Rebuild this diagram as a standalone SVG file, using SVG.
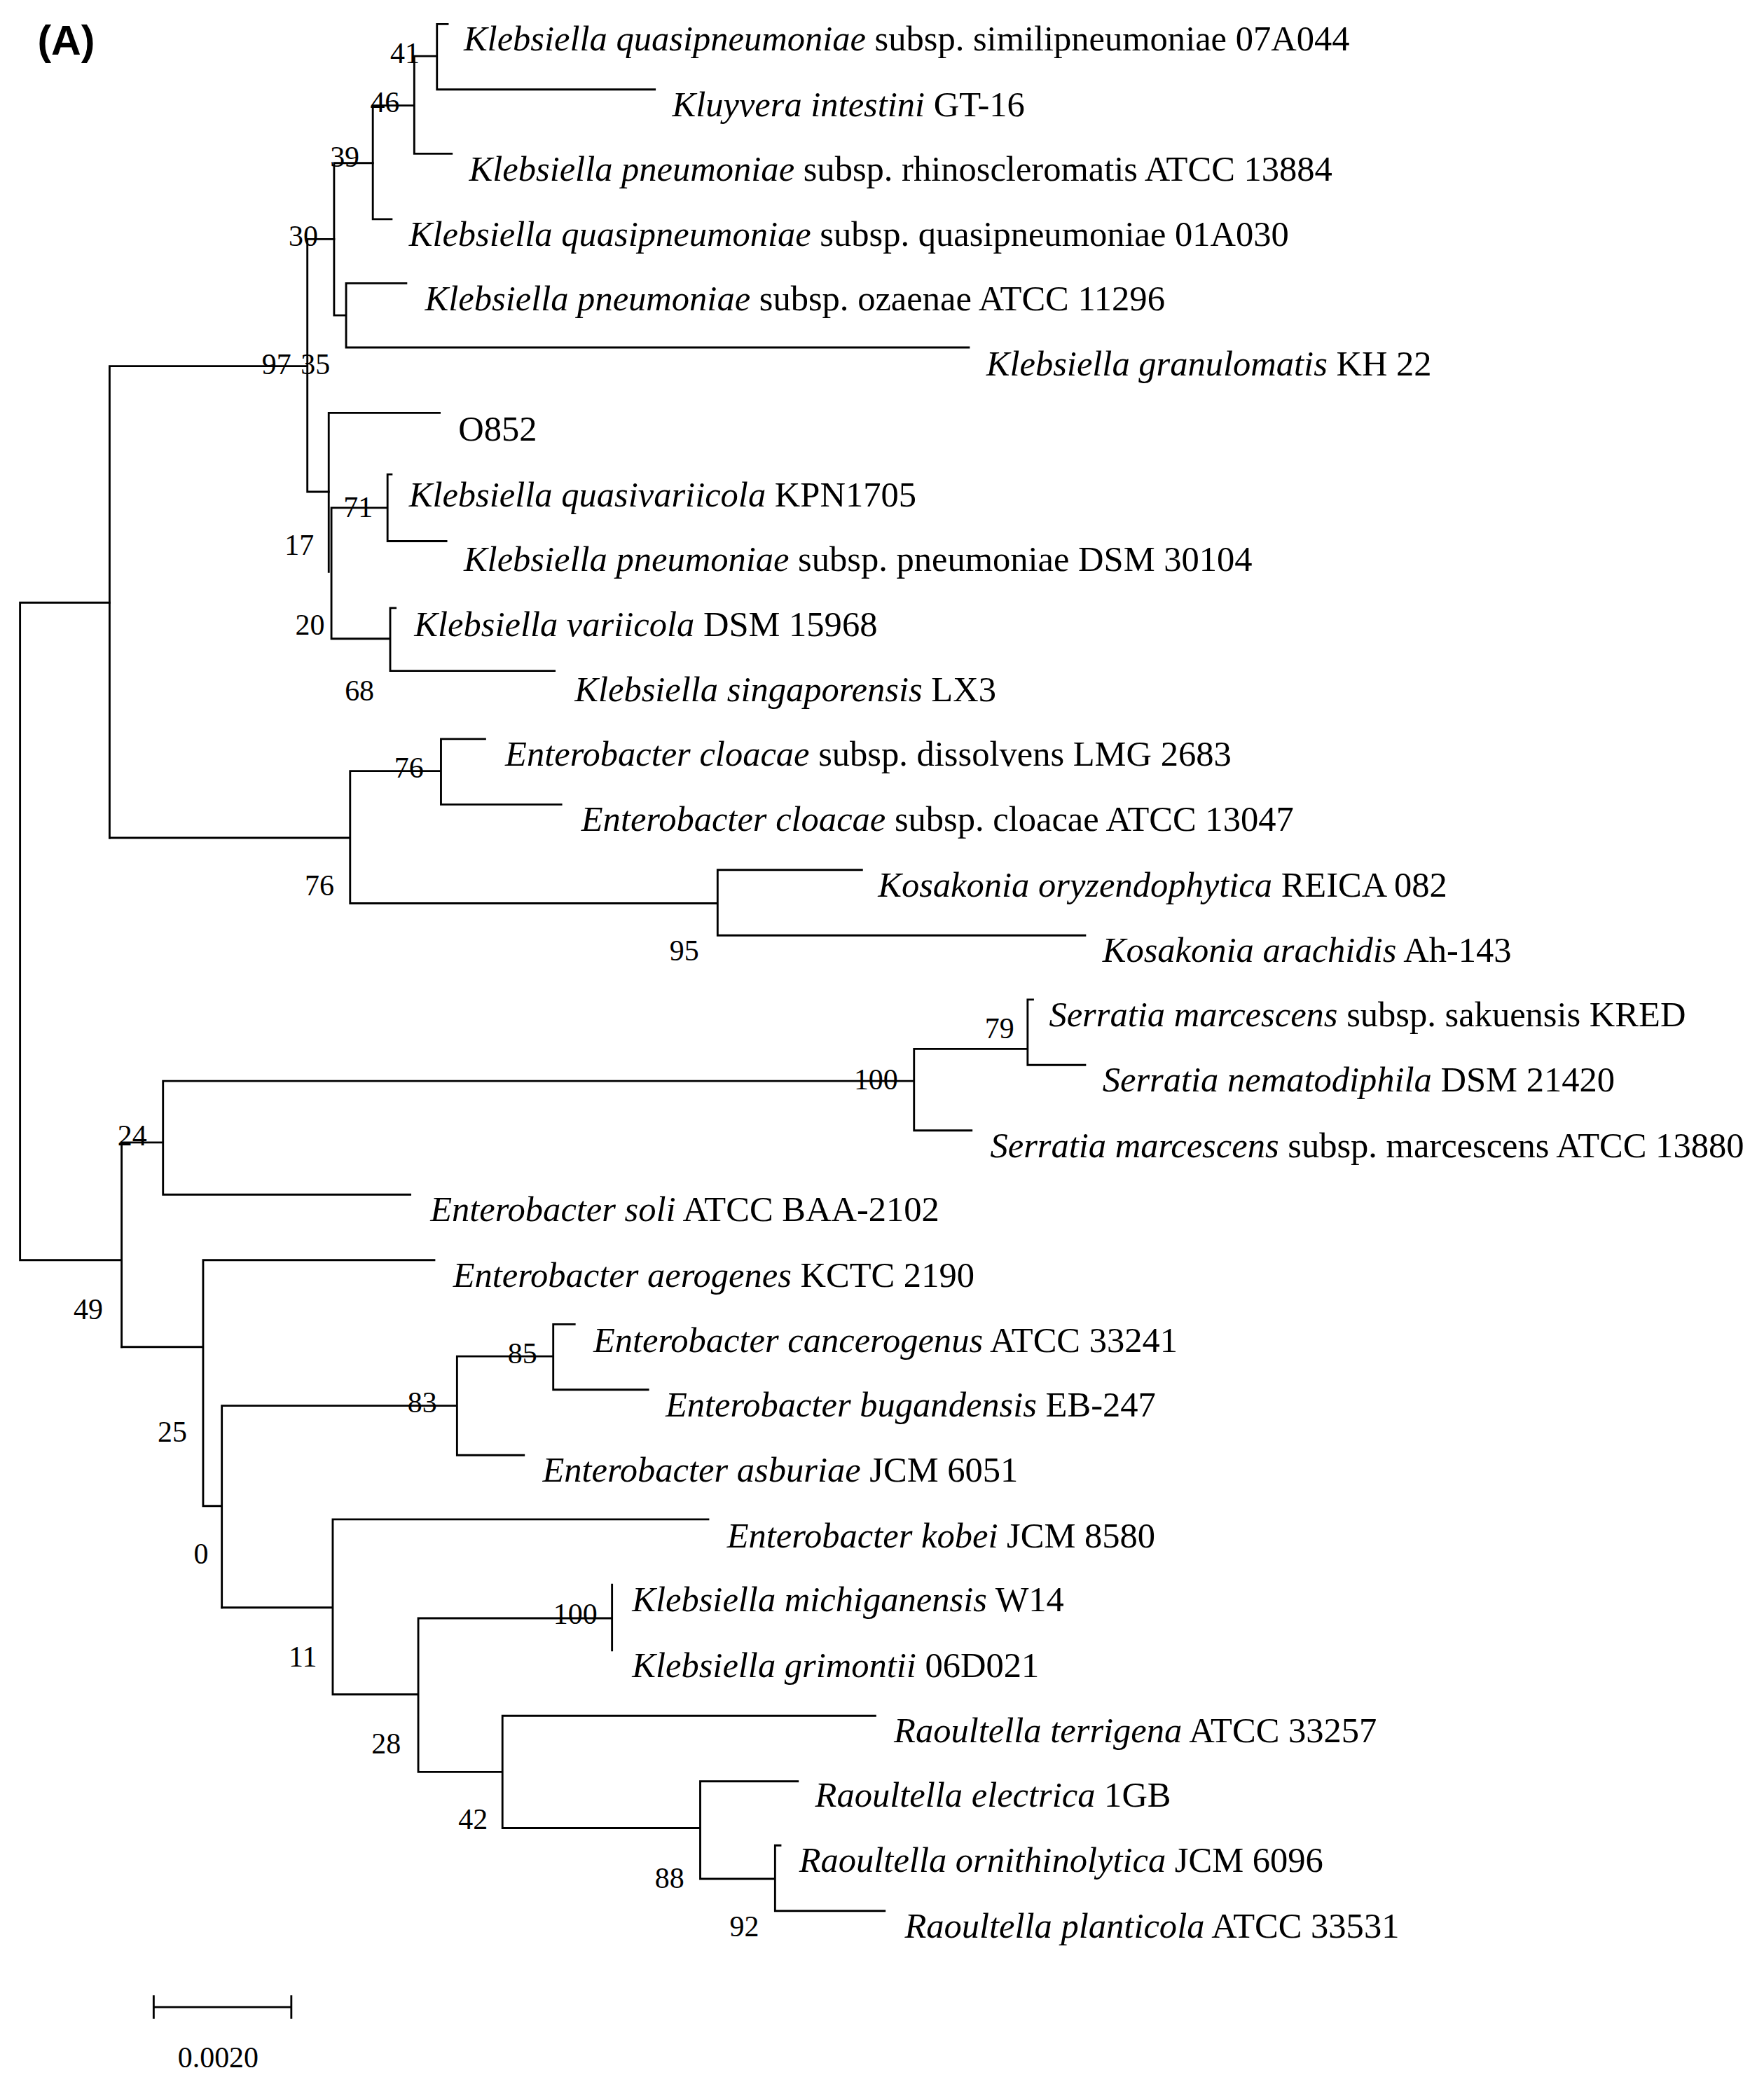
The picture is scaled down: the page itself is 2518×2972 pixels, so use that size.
<svg xmlns="http://www.w3.org/2000/svg" width="2518" height="2972" viewBox="0 0 2518 2972">
<style>
.e{fill:none;stroke:#000;stroke-width:1.5;stroke-linecap:square}
.t{font-family:"Liberation Serif",serif;font-size:26.5px;fill:#000}
.n{font-family:"Liberation Serif",serif;font-size:22px;fill:#000}
.s{font-family:"Liberation Sans",sans-serif;font-size:31px;font-weight:bold;fill:#000}
</style>
<rect width="2518" height="2972" fill="#fff"/>
<g transform="scale(1.9075)">
<text class="s" x="28" y="41">(A)</text>
<g id="connectors" class="e">
<path d="M15 451V943M15 451H82M15 943H91"/>
<path d="M82 274V627M82 274H230M230 179V368M230 179H250M230 368H246"/>
<path d="M250 122V236M250 122H279M250 236H259M259 212V260M259 212H304M259 260H725"/>
<path d="M279 79V164M279 79H310M279 164H293M310 42V115M310 42H327M310 115H338M327 18V67M327 18H335M327 67H490"/>
<path d="M246 309V428M246 309H329M248 380V478M248 380H290M290 355V405M290 355H293M290 405H334M248 478H292M292 455V502M292 455H296M292 502H415"/>
<path d="M82 627H262M262 577V676M262 577H330M330 553V602M330 553H363M330 602H420M262 676H537M537 651V700M537 651H645M537 700H812"/>
<path d="M91 855V1008M91 855H122M122 809V894M122 809H684M122 894H307M684 785V846M684 785H769M684 846H727M769 748V797M769 748H773M769 797H812"/>
<path d="M91 1008H152M152 943V1127M152 943H325M152 1127H166M166 1052V1203M166 1052H342M342 1015V1089M342 1015H414M342 1089H392M414 991V1040M414 991H430M414 1040H485"/>
<path d="M166 1203H249M249 1137V1268M249 1137H530M249 1268H313M313 1211V1326M313 1211H458M458 1186V1235M313 1326H376M376 1284V1368M376 1284H655M376 1368H524M524 1333V1406M524 1333H597M524 1406H580M580 1381V1430M580 1381H584M580 1430H662"/>
<path d="M115 1502H218M115 1494V1510M218 1494V1510"/>
</g>
<g id="leaves" class="t">
<text x="347" y="38"><tspan font-style="italic">Klebsiella quasipneumoniae</tspan> subsp. similipneumoniae 07A044</text>
<text x="503" y="87"><tspan font-style="italic">Kluyvera intestini</tspan> GT-16</text>
<text x="351" y="135"><tspan font-style="italic">Klebsiella pneumoniae</tspan> subsp. rhinoscleromatis ATCC 13884</text>
<text x="306" y="184"><tspan font-style="italic">Klebsiella quasipneumoniae</tspan> subsp. quasipneumoniae 01A030</text>
<text x="318" y="232"><tspan font-style="italic">Klebsiella pneumoniae</tspan> subsp. ozaenae ATCC 11296</text>
<text x="738" y="281"><tspan font-style="italic">Klebsiella granulomatis</tspan> KH 22</text>
<text x="343" y="330">O852</text>
<text x="306" y="379"><tspan font-style="italic">Klebsiella quasivariicola</tspan> KPN1705</text>
<text x="347" y="427"><tspan font-style="italic">Klebsiella pneumoniae</tspan> subsp. pneumoniae DSM 30104</text>
<text x="310" y="476"><tspan font-style="italic">Klebsiella variicola</tspan> DSM 15968</text>
<text x="430" y="525"><tspan font-style="italic">Klebsiella singaporensis</tspan> LX3</text>
<text x="378" y="573"><tspan font-style="italic">Enterobacter cloacae</tspan> subsp. dissolvens LMG 2683</text>
<text x="435" y="622"><tspan font-style="italic">Enterobacter cloacae</tspan> subsp. cloacae ATCC 13047</text>
<text x="657" y="671"><tspan font-style="italic">Kosakonia oryzendophytica</tspan> REICA 082</text>
<text x="825" y="720"><tspan font-style="italic">Kosakonia arachidis</tspan> Ah-143</text>
<text x="785" y="768"><tspan font-style="italic">Serratia marcescens</tspan> subsp. sakuensis KRED</text>
<text x="825" y="817"><tspan font-style="italic">Serratia nematodiphila</tspan> DSM 21420</text>
<text x="741" y="866"><tspan font-style="italic">Serratia marcescens</tspan> subsp. marcescens ATCC 13880</text>
<text x="322" y="914"><tspan font-style="italic">Enterobacter soli</tspan> ATCC BAA-2102</text>
<text x="339" y="963"><tspan font-style="italic">Enterobacter aerogenes</tspan> KCTC 2190</text>
<text x="444" y="1012"><tspan font-style="italic">Enterobacter cancerogenus</tspan> ATCC 33241</text>
<text x="498" y="1060"><tspan font-style="italic">Enterobacter bugandensis</tspan> EB-247</text>
<text x="406" y="1109"><tspan font-style="italic">Enterobacter asburiae</tspan> JCM 6051</text>
<text x="544" y="1158"><tspan font-style="italic">Enterobacter kobei</tspan> JCM 8580</text>
<text x="473" y="1206"><tspan font-style="italic">Klebsiella michiganensis</tspan> W14</text>
<text x="473" y="1255"><tspan font-style="italic">Klebsiella grimontii</tspan> 06D021</text>
<text x="669" y="1304"><tspan font-style="italic">Raoultella terrigena</tspan> ATCC 33257</text>
<text x="610" y="1352"><tspan font-style="italic">Raoultella electrica</tspan> 1GB</text>
<text x="598" y="1401"><tspan font-style="italic">Raoultella ornithinolytica</tspan> JCM 6096</text>
<text x="677" y="1450"><tspan font-style="italic">Raoultella planticola</tspan> ATCC 33531</text>
</g>
<g id="bootstrap" class="n">
<text x="292" y="47">41</text>
<text x="277" y="84">46</text>
<text x="247" y="125">39</text>
<text x="216" y="184">30</text>
<text x="196" y="280">97</text>
<text x="225" y="280">35</text>
<text x="257" y="387">71</text>
<text x="213" y="415">17</text>
<text x="221" y="475">20</text>
<text x="258" y="524">68</text>
<text x="295" y="582">76</text>
<text x="228" y="670">76</text>
<text x="501" y="719">95</text>
<text x="737" y="777">79</text>
<text x="639" y="815">100</text>
<text x="88" y="857">24</text>
<text x="55" y="987">49</text>
<text x="380" y="1020">85</text>
<text x="305" y="1057">83</text>
<text x="118" y="1079">25</text>
<text x="145" y="1170">0</text>
<text x="414" y="1215">100</text>
<text x="216" y="1247">11</text>
<text x="278" y="1312">28</text>
<text x="343" y="1369">42</text>
<text x="490" y="1413">88</text>
<text x="546" y="1449">92</text>
<text x="133" y="1547">0.0020</text>
</g>
</g>
</svg>
